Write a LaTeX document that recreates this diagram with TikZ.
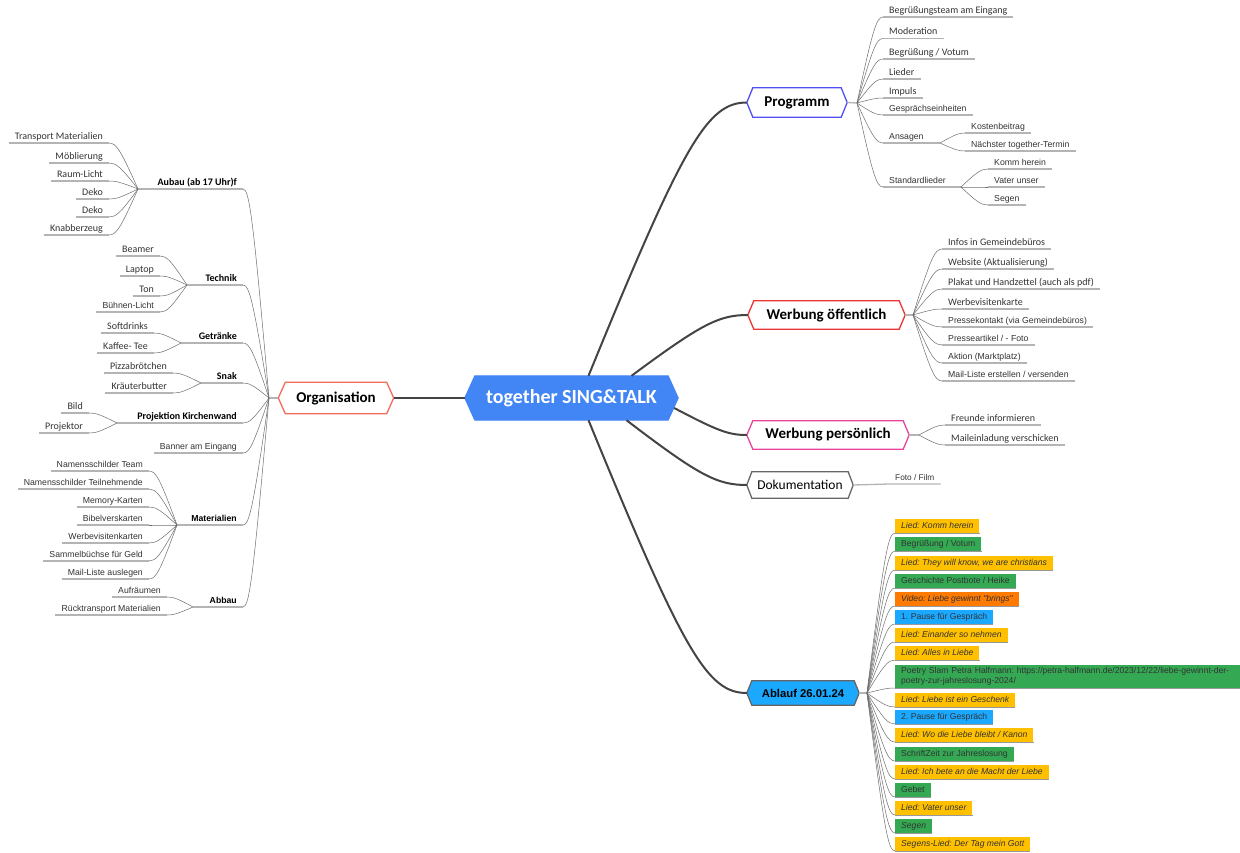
\documentclass[tikz,border=0pt]{standalone}
\usepackage{fontspec}
\setmainfont{Carlito}
\newfontfamily\fcal{Carlito}
\newfontfamily\fari{Liberation Sans}
\usetikzlibrary{calc,backgrounds}
\frenchspacing
\definecolor{txt}{HTML}{333333}
\definecolor{ulc}{HTML}{B4B4B4}
\definecolor{cnc}{HTML}{6E6E6E}
\definecolor{mcc}{HTML}{444444}
\definecolor{cCen}{HTML}{4285F4}
\definecolor{cOrg}{HTML}{F26B5B}
\definecolor{cProg}{HTML}{5050F5}
\definecolor{cWo}{HTML}{EC3434}
\definecolor{cWp}{HTML}{E8449E}
\definecolor{cDok}{HTML}{666666}
\definecolor{cAbl}{HTML}{1BA8FF}
\definecolor{cY}{HTML}{FFC000}
\definecolor{cG}{HTML}{34A853}
\definecolor{cO}{HTML}{FF7A00}
\definecolor{cB}{HTML}{1BA8FF}
\newcommand\hexdraw[3]{\draw[#3] (#1.west) -- ([xshift=#2]#1.north west) -- ([xshift=-#2]#1.north east) -- (#1.east) -- ([xshift=-#2]#1.south east) -- ([xshift=#2]#1.south west) -- cycle;}
\tikzset{
 fan/.style={to path={let \p1=(\tikztostart),\p2=(\tikztotarget) in .. controls ({\x1+0.6*(\x2-(\x1))},{\y1+0.85*(\y2-(\y1))}) and ({\x1+0.75*(\x2-(\x1))},\y2) .. (\tikztotarget)}},
 lf/.style={inner xsep=6pt, inner ysep=1.5pt, text height=7pt, text depth=2pt, text=txt},
 lr/.style={lf, anchor=south west},
 ll/.style={lf, anchor=south east},
 fc/.style={font=\fcal\fontsize{10}{12}\selectfont},
 fa/.style={font=\fari\fontsize{8.7}{10.5}\selectfont},
 fcb/.style={font=\fcal\bfseries\fontsize{10}{12}\selectfont, text=black},
 fab/.style={font=\fari\bfseries\fontsize{8.7}{10.5}\selectfont, text=black},
 ul/.style={draw=ulc, line width=1.3pt},
 cn/.style={draw=cnc, line width=0.5pt},
 mc/.style={draw=mcc, line width=2pt},
 hexn/.style={inner sep=0pt, align=center},
 hexb/.style={font=\fcal\bfseries\fontsize{15}{18}\selectfont, text=black},
 abox/.style={anchor=south west, inner xsep=6pt, inner ysep=0pt, minimum height=14pt, text height=6.5pt, text depth=2pt, font=\fari\fontsize{8.6}{10.3}\selectfont, text=txt},
 shad/.style={draw=black!40, line width=1.2pt}
}
\begin{document}
\begin{tikzpicture}[x=1pt,y=-1pt]
\useasboundingbox (0,0) rectangle (1240,852);
% main hexagon nodes
\node[hexn, minimum width=213pt, minimum height=44pt, font=\fcal\bfseries\fontsize{20}{24}\selectfont, text=white] (c) at (571.5,398) {together SING\&TALK};
\node[hexn, hexb, minimum width=115pt, minimum height=31pt] (org) at (336,398) {Organisation};
\node[hexn, hexb, minimum width=100pt, minimum height=29pt] (prog) at (797,102.5) {Programm};
\node[hexn, hexb, minimum width=157pt, minimum height=28pt] (wo) at (826.5,315) {Werbung öffentlich};
\node[hexn, hexb, minimum width=162pt, minimum height=28pt] (wp) at (828,435) {Werbung persönlich};
\node[hexn, minimum width=106pt, minimum height=26pt, font=\fcal\fontsize{13.5}{16}\selectfont] (dok) at (800,485) {Dokumentation};
\node[hexn, minimum width=112pt, minimum height=24pt, font=\fari\bfseries\fontsize{11.3}{13}\selectfont] (abl) at (803,693) {Ablauf 26.01.24};
\begin{scope}[on background layer]
\fill[white] (0,0) rectangle (1240,852);
\hexdraw{c}{10pt}{fill=cCen,draw=cCen,line width=1pt}
\hexdraw{org}{7pt}{fill=white,draw=cOrg,line width=1.3pt}
\hexdraw{prog}{6pt}{fill=white,draw=cProg,line width=1.3pt}
\hexdraw{wo}{6pt}{fill=white,draw=cWo,line width=1.3pt}
\hexdraw{wp}{6pt}{fill=white,draw=cWp,line width=1.3pt}
\hexdraw{dok}{5pt}{fill=white,draw=cDok,line width=1.3pt}
\hexdraw{abl}{5pt}{fill=cAbl,draw=cDok,line width=1.3pt}
\end{scope}
% branch points
\coordinate (P) at (857,103);
\coordinate (W) at (913,315);
\coordinate (V) at (919,435);
\coordinate (A) at (867,693);
\coordinate (O) at (269,398);
\coordinate (pA) at (940,143);
\coordinate (pS) at (961,187);
\coordinate (sA) at (138,189);
\coordinate (sT) at (187,285);
\coordinate (sG) at (181,343);
\coordinate (sS) at (201,383);
\coordinate (sP) at (117,423);
\coordinate (sM) at (177,525);
\coordinate (sB) at (193,607);
% main connectors
\draw[mc] (c.west) -- (org.east);
\draw[mc] ([xshift=17pt]c.north) to[fan] (prog.west);
\draw[mc] ([xshift=60pt]c.north) to[fan] (wo.west);
\draw[mc] ([xshift=-4pt,yshift=-10pt]c.east) to[fan] (wp.west);
\draw[mc] ([xshift=55pt]c.south) to[fan] (dok.west);
\draw[mc] ([xshift=17pt]c.south) to[fan] (abl.west);
\draw[ul] (prog.east) -- (P);
\draw[ul] (wo.east) -- (W);
\draw[ul] (wp.east) -- (V);
\draw[ul] (abl.east) -- (A);
\draw[ul] (org.west) -- (O);
% Programm
\node[lr,fc] (p1) at (883,17) {Begrüßungsteam am Eingang};
\node[lr,fc] (p2) at (883,38.5) {Moderation};
\node[lr,fc] (p3) at (883,59) {Begrüßung / Votum};
\node[lr,fc] (p4) at (883,79) {Lieder};
\node[lr,fc] (p5) at (883,98) {Impuls};
\node[lr,fa] (p6) at (883,115) {Gesprächseinheiten};
\node[lr,fa] (p7) at (883,143) {Ansagen};
\node[lr,fa] (p8) at (883,187) {Standardlieder};
\node[lr,fa] (a1) at (965,133) {Kostenbeitrag};
\node[lr,fa] (a2) at (965,151) {Nächster together-Termin};
\node[lr,fa] (s1) at (988,169) {Komm herein};
\node[lr,fa] (s2) at (988,187) {Vater unser};
\node[lr,fa] (s3) at (988,205) {Segen};
\foreach \q in {p1,p2,p3,p4,p5,p6,a1,a2,s1,s2,s3} \draw[ul] (\q.south west) -- (\q.south east);
\draw[ul] (p7.south west) -- (pA);
\draw[ul] (p8.south west) -- (pS);
\foreach \q in {p1,p2,p3,p4,p5,p6,p7,p8} \draw[cn] (P) to[fan] (\q.south west);
\foreach \q in {a1,a2} \draw[cn] (pA) to[fan] (\q.south west);
\foreach \q in {s1,s2,s3} \draw[cn] (pS) to[fan] (\q.south west);
% Werbung oeffentlich
\node[lr,fc] (w1) at (942,249) {Infos in Gemeindebüros};
\node[lr,fc] (w2) at (942,269) {Website (Aktualisierung)};
\node[lr,fc] (w3) at (942,289) {Plakat und Handzettel (auch als pdf)};
\node[lr,fc] (w4) at (942,309) {Werbevisitenkarte};
\node[lr,fa] (w5) at (942,327) {Pressekontakt (via Gemeindebüros)};
\node[lr,fa] (w6) at (942,345) {Presseartikel / - Foto};
\node[lr,fa] (w7) at (942,363) {Aktion (Marktplatz)};
\node[lr,fa] (w8) at (942,381) {Mail-Liste erstellen / versenden};
\foreach \q in {w1,w2,w3,w4,w5,w6,w7,w8} {\draw[ul] (\q.south west) -- (\q.south east); \draw[cn] (W) to[fan] (\q.south west);}
% Werbung persoenlich
\node[lr,fc] (v1) at (945,425) {Freunde informieren};
\node[lr,fc] (v2) at (945,445) {Maileinladung verschicken};
\foreach \q in {v1,v2} {\draw[ul] (\q.south west) -- (\q.south east); \draw[cn] (V) to[fan] (\q.south west);}
% Dokumentation
\node[lr,font=\fari\fontsize{8.3}{10}\selectfont] (d1) at (889,484) {Foto / Film};
\draw[ul] (dok.east) -- (d1.south west) -- (d1.south east);
% Ablauf
\node[abox,fill=cY] (b1) at (895,533) {\itshape Lied: Komm herein};
\node[abox,fill=cG] (b2) at (895,551) {Begrüßung / Votum};
\node[abox,fill=cY] (b3) at (895,570) {\itshape Lied: They will know, we are christians};
\node[abox,fill=cG] (b4) at (895,588) {Geschichte Postbote / Heike};
\node[abox,fill=cO] (b5) at (895,606) {\itshape Video: Liebe gewinnt "brings"};
\node[abox,fill=cB] (b6) at (895,624) {1. Pause für Gespräch};
\node[abox,fill=cY] (b7) at (895,642) {\itshape Lied: Einander so nehmen};
\node[abox,fill=cY] (b8) at (895,660) {\itshape Lied: Alles in Liebe};
\node[anchor=south west, inner xsep=6pt, inner ysep=2pt, text width=333pt, align=left, minimum height=23pt, font=\fari\fontsize{8.6}{10}\selectfont, text=txt, fill=cG] (b9) at (895,688) {Poetry Slam Petra Halfmann: https://petra-halfmann.de/2023/12/22/liebe-gewinnt-der-\\poetry-zur-jahreslosung-2024/};
\node[abox,fill=cY] (b10) at (895,707) {\itshape Lied: Liebe ist ein Geschenk};
\node[abox,fill=cB] (b11) at (895,724) {2. Pause für Gespräch};
\node[abox,fill=cY] (b12) at (895,742) {\itshape Lied: Wo die Liebe bleibt / Kanon};
\node[abox,fill=cG] (b13) at (895,761) {SchriftZeit zur Jahreslosung};
\node[abox,fill=cY] (b14) at (895,779) {\itshape Lied: Ich bete an die Macht der Liebe};
\node[abox,fill=cG] (b15) at (895,797) {Gebet};
\node[abox,fill=cY] (b16) at (895,815) {\itshape Lied: Vater unser};
\node[abox,fill=cG] (b17) at (895,833) {\itshape Segen};
\node[abox,fill=cY] (b18) at (895,851) {\itshape Segens-Lied: Der Tag mein Gott};
\foreach \q in {b1,b2,b3,b4,b5,b6,b7,b8,b9,b10,b11,b12,b13,b14,b15,b16,b17,b18} {\draw[shad] ([yshift=-0.6pt]\q.south west) -- ([yshift=-0.6pt]\q.south east); \draw[cn] (A) to[fan] (\q.south west);}
% Organisation
\node[ll,fcb] (m1) at (243,189) {Aubau (ab 17 Uhr)f};
\node[ll,fcb] (m2) at (243,285) {Technik};
\node[ll,fcb] (m3) at (243,343) {Getränke};
\node[ll,fcb] (m4) at (243,383) {Snak};
\node[ll,fcb] (m5) at (243,423) {Projektion Kirchenwand};
\node[ll,fa] (m6) at (243,453) {Banner am Eingang};
\node[ll,fab] (m7) at (243,525) {Materialien};
\node[ll,fab] (m8) at (243,607) {Abbau};
\foreach \q in {m1,m2,m3,m4,m5,m6,m7,m8} \draw[cn] (O) to[fan] (\q.south east);
\draw[ul] (sA) -- (m1.south east);
\draw[ul] (sT) -- (m2.south east);
\draw[ul] (sG) -- (m3.south east);
\draw[ul] (sS) -- (m4.south east);
\draw[ul] (sP) -- (m5.south east);
\draw[ul] (m6.south west) -- (m6.south east);
\draw[ul] (sM) -- (m7.south east);
\draw[ul] (sB) -- (m8.south east);
% Aubau
\node[ll,fc] (l11) at (109,143) {Transport Materialien};
\node[ll,fc] (l12) at (109,163) {Möblierung};
\node[ll,fc] (l13) at (109,181) {Raum-Licht};
\node[ll,fc] (l14) at (109,199) {Deko};
\node[ll,fc] (l15) at (109,217) {Deko};
\node[ll,fc] (l16) at (109,235) {Knabberzeug};
\foreach \q in {l11,l12,l13,l14,l15,l16} {\draw[ul] (\q.south west) -- (\q.south east); \draw[cn] (sA) to[fan] (\q.south east);}
% Technik
\node[ll,fc] (l21) at (160,256) {Beamer};
\node[ll,fc] (l22) at (160,276) {Laptop};
\node[ll,fc] (l23) at (160,296) {Ton};
\node[ll,fa] (l24) at (160,312) {Bühnen-Licht};
\foreach \q in {l21,l22,l23,l24} {\draw[ul] (\q.south west) -- (\q.south east); \draw[cn] (sT) to[fan] (\q.south east);}
% Getraenke
\node[ll,fc] (l31) at (154,333) {Softdrinks};
\node[ll,fc] (l32) at (154,353) {Kaffee- Tee};
\foreach \q in {l31,l32} {\draw[ul] (\q.south west) -- (\q.south east); \draw[cn] (sG) to[fan] (\q.south east);}
% Snak
\node[ll,fc] (l41) at (173,373) {Pizzabrötchen};
\node[ll,fc] (l42) at (173,393) {Kräuterbutter};
\foreach \q in {l41,l42} {\draw[ul] (\q.south west) -- (\q.south east); \draw[cn] (sS) to[fan] (\q.south east);}
% Projektion
\node[ll,fc] (l51) at (89,413) {Bild};
\node[ll,fc] (l52) at (89,433) {Projektor};
\foreach \q in {l51,l52} {\draw[ul] (\q.south west) -- (\q.south east); \draw[cn] (sP) to[fan] (\q.south east);}
% Materialien
\node[ll,fa] (l71) at (149,471) {Namensschilder Team};
\node[ll,fa] (l72) at (149,489) {Namensschilder Teilnehmende};
\node[ll,fa] (l73) at (149,507) {Memory-Karten};
\node[ll,fa] (l74) at (149,525) {Bibelverskarten};
\node[ll,fa] (l75) at (149,543) {Werbevisitenkarten};
\node[ll,fa] (l76) at (149,561) {Sammelbüchse für Geld};
\node[ll,fa] (l77) at (149,579) {Mail-Liste auslegen};
\foreach \q in {l71,l72,l73,l74,l75,l76,l77} {\draw[ul] (\q.south west) -- (\q.south east); \draw[cn] (sM) to[fan] (\q.south east);}
% Abbau
\node[ll,fa] (l81) at (167,597) {Aufräumen};
\node[ll,fa] (l82) at (167,615) {Rücktransport Materialien};
\foreach \q in {l81,l82} {\draw[ul] (\q.south west) -- (\q.south east); \draw[cn] (sB) to[fan] (\q.south east);}
\end{tikzpicture}
\end{document}
